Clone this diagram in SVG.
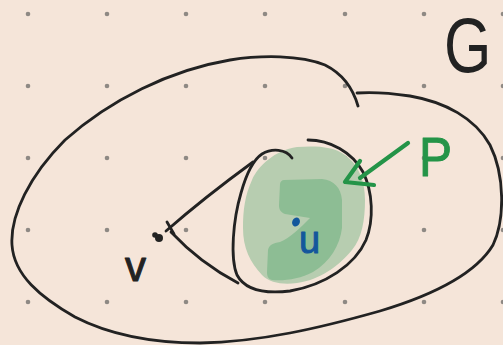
<svg xmlns="http://www.w3.org/2000/svg" width="503" height="345" viewBox="0 0 503 345">
  <style>
    .ink{fill:none;stroke:#222;stroke-width:2.8;stroke-linecap:round;stroke-linejoin:round}
    .grn{fill:none;stroke:#249448;stroke-width:4.2;stroke-linecap:round;stroke-linejoin:round}
    .dot{fill:#8e8984}
    .hand{font-family:"Liberation Sans","DejaVu Sans",sans-serif;stroke-width:1;stroke-linejoin:round}
  </style>
  <rect width="503" height="345" fill="#f5e5d9"/>
  <g id="grid">
    <g class="dot">
      <circle cx="28" cy="14" r="2.3"/><circle cx="107" cy="14" r="2.3"/><circle cx="186" cy="14" r="2.3"/><circle cx="265" cy="14" r="2.3"/><circle cx="345" cy="14" r="2.3"/><circle cx="424" cy="14" r="2.3"/><circle cx="503" cy="14" r="2.3"/>
      <circle cx="28" cy="86" r="2.3"/><circle cx="107" cy="86" r="2.3"/><circle cx="186" cy="86" r="2.3"/><circle cx="265" cy="86" r="2.3"/><circle cx="345" cy="86" r="2.3"/><circle cx="424" cy="86" r="2.3"/><circle cx="503" cy="86" r="2.3"/>
      <circle cx="28" cy="158" r="2.3"/><circle cx="107" cy="158" r="2.3"/><circle cx="186" cy="158" r="2.3"/><circle cx="265" cy="158" r="2.3"/><circle cx="345" cy="158" r="2.3"/><circle cx="424" cy="158" r="2.3"/><circle cx="503" cy="158" r="2.3"/>
      <circle cx="28" cy="230" r="2.3"/><circle cx="107" cy="230" r="2.3"/><circle cx="186" cy="230" r="2.3"/><circle cx="265" cy="230" r="2.3"/><circle cx="345" cy="230" r="2.3"/><circle cx="424" cy="230" r="2.3"/><circle cx="503" cy="230" r="2.3"/>
      <circle cx="28" cy="302" r="2.3"/><circle cx="107" cy="302" r="2.3"/><circle cx="186" cy="302" r="2.3"/><circle cx="265" cy="302" r="2.3"/><circle cx="345" cy="302" r="2.3"/><circle cx="424" cy="302" r="2.3"/><circle cx="503" cy="302" r="2.3"/>
    </g>
  </g>
  <g id="graph-G">
    <path class="ink" d="M358,106 C354,92 345,75 325,65 C300,55 262,55 230,60 C170,70 110,100 65,140 C30,175 10,215 12,245 C14,275 40,297 75,317 C110,335 150,343 200,343 C260,342 320,328 380,311 C430,296 475,275 493,245 C505,220 505,175 490,145 C475,118 445,102 410,96 C390,93 370,92 357,93"/>
    <text class="hand" transform="translate(444,72) scale(0.78,1)" font-size="78" fill="#222">G</text>
  </g>
  <g id="region-P">
    <path fill="#b7cdb0" d="M297,147 C315,146 333,146 345,155 C358,164 365,180 365,200 C365,220 362,238 352,250 C340,265 320,280 297,283 C283,285 270,283 262,275 C250,262 243,248 243,228 C243,210 245,195 252,180 C258,166 275,150 297,147 Z"/>
    <path fill="#8dbd94" d="M284,180 L322,179 C334,180 341,188 342,200 L342,228 C340,245 330,262 313,272 C300,279 285,281 272,280 C268,279 267,276 267,272 L268,250 C269,245 273,243 280,242 C290,238 300,228 310,218 L285,214 C280,212 279,209 279,205 L280,184 C280,182 282,180 284,180 Z"/>
    <path class="ink" d="M308,140 C330,140 352,152 363,172 C373,192 374,220 366,240 C355,265 325,285 290,291 C265,294 245,290 237,275 C230,258 233,220 241,193 C246,175 253,160 262,154 C272,148 286,149 292,158"/>
    <path class="grn" d="M408,143 L360,178 M360,161 L345,182 L374,185"/>
    <text class="hand" x="419" y="176" font-size="56" textLength="33" lengthAdjust="spacingAndGlyphs" fill="#249448" stroke="#249448">P</text>
  </g>
  <g id="node-v">
    <circle cx="159" cy="238" r="4" fill="#222"/>
    <circle cx="155" cy="235" r="2.8" fill="#222"/>
    <text class="hand" x="125" y="281" font-size="42" fill="#222" stroke="#222">v</text>
  </g>
  <g id="node-u">
    <ellipse cx="296" cy="222" rx="3.8" ry="4.6" transform="rotate(25 296 222)" fill="#13579c"/>
    <text class="hand" x="299" y="253" font-size="38" fill="#13579c" stroke="#13579c">u</text>
  </g>
  <g id="connectors">
    <path class="ink" d="M166,231 Q205,197 253,162"/>
    <path class="ink" d="M171,232 Q200,263 238,283"/>
    <path class="ink" d="M167,222 L174,234"/>
  </g>
</svg>
